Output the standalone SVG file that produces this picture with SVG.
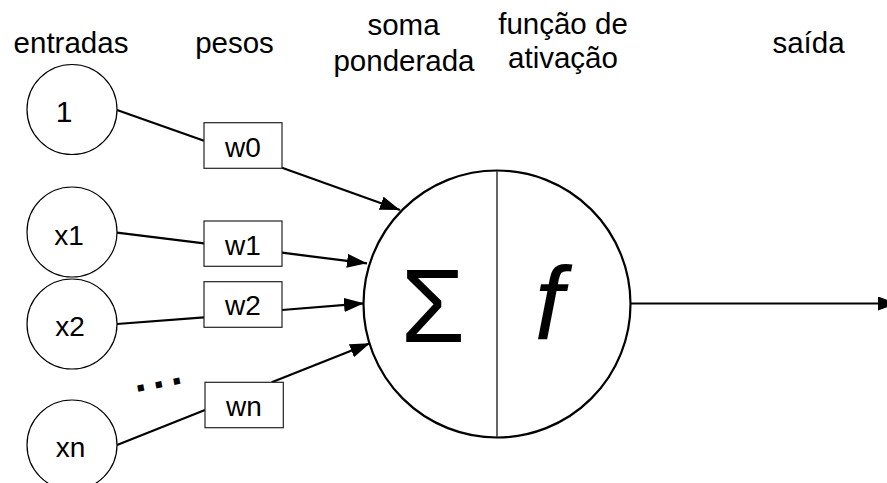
<svg xmlns="http://www.w3.org/2000/svg" width="887" height="483" viewBox="0 0 887 483">
  <style>
    text { font-family: "Liberation Sans", Arial, sans-serif; fill: #000; }
    .hdr { font-size: 29.5px; text-anchor: middle; }
    .inp { fill: #fff; stroke: #000; stroke-width: 1.2; }
    .inp-t { font-size: 28px; text-anchor: middle; }
    .wbox { fill: #fff; stroke: #222; stroke-width: 1.2; }
    .w-t { font-size: 28px; text-anchor: middle; }
    .edge { stroke: #000; stroke-width: 2.2; fill: none; }
    .arr { marker-end: url(#head); }
  </style>
  <defs>
    <marker id="head" markerUnits="userSpaceOnUse" markerWidth="21" markerHeight="15" refX="20" refY="7" orient="auto">
      <path d="M0,0 L20,7 L0,14 z" fill="#000"/>
    </marker>
  </defs>

  <!-- column headers -->
  <g id="headers">
    <text class="hdr" x="71" y="53">entradas</text>
    <text class="hdr" x="234.5" y="53">pesos</text>
    <text class="hdr" x="403.5" y="35">soma</text>
    <text class="hdr" x="404" y="70.5">ponderada</text>
    <text class="hdr" x="563" y="34">função de</text>
    <text class="hdr" x="563" y="68">ativação</text>
    <text class="hdr" x="808.5" y="53">saída</text>
  </g>

  <!-- connectors -->
  <g id="connectors">
    <line class="edge" x1="117" y1="110" x2="204" y2="140.7"/>
    <line class="edge arr" x1="282" y1="167.7" x2="400" y2="210"/>
    <line class="edge" x1="117" y1="232.7" x2="204" y2="243.3"/>
    <line class="edge arr" x1="282" y1="252.7" x2="367" y2="263.3"/>
    <line class="edge" x1="117" y1="324" x2="204" y2="317.3"/>
    <line class="edge arr" x1="282" y1="310" x2="364" y2="303.3"/>
    <line class="edge" x1="117" y1="445" x2="205" y2="410"/>
    <line class="edge arr" x1="271.7" y1="382.3" x2="370" y2="343.3"/>
    <line class="edge arr" x1="631" y1="303.5" x2="898" y2="303.5"/>
  </g>

  <!-- inputs -->
  <g id="in-1">
    <circle class="inp" cx="72" cy="109.5" r="45"/>
    <text class="inp-t" x="64" y="121.5" style="font-size:30px">1</text>
  </g>
  <g id="in-x1">
    <circle class="inp" cx="72" cy="232" r="45"/>
    <text class="inp-t" x="69" y="245">x1</text>
  </g>
  <g id="in-x2">
    <circle class="inp" cx="72" cy="324" r="45"/>
    <text class="inp-t" x="70" y="336">x2</text>
  </g>
  <g id="in-xn">
    <circle class="inp" cx="72" cy="445" r="45"/>
    <text class="inp-t" x="70.5" y="456.5">xn</text>
  </g>
  <g id="ellipsis">
    <text x="134" y="388" transform="rotate(-10.5 158 382)" style="font-size:43px;font-weight:bold;letter-spacing:6.3px">...</text>
  </g>

  <!-- weights -->
  <g id="w0">
    <rect class="wbox" x="204" y="122.7" width="78" height="45.6"/>
    <text class="w-t" x="243" y="157.3">w0</text>
  </g>
  <g id="w1">
    <rect class="wbox" x="204" y="221" width="78" height="45.3"/>
    <text class="w-t" x="243" y="255.3">w1</text>
  </g>
  <g id="w2">
    <rect class="wbox" x="204" y="281.7" width="78" height="45.6"/>
    <text class="w-t" x="243" y="315">w2</text>
  </g>
  <g id="wn">
    <rect class="wbox" x="205" y="382.3" width="78.3" height="45.4"/>
    <text class="w-t" x="244" y="416">wn</text>
  </g>

  <!-- neuron: weighted sum and activation -->
  <g id="neuron">
    <circle cx="497" cy="304" r="133.5" fill="#fff" stroke="#000" stroke-width="2.2"/>
    <line x1="497" y1="171" x2="497" y2="437" stroke="#333" stroke-width="1.5"/>
    <text x="433" y="342" text-anchor="middle" style="font-size:104px">Σ</text>
    <text x="549" y="339" text-anchor="middle" style="font-size:104px;font-style:italic">f</text>
  </g>
</svg>
